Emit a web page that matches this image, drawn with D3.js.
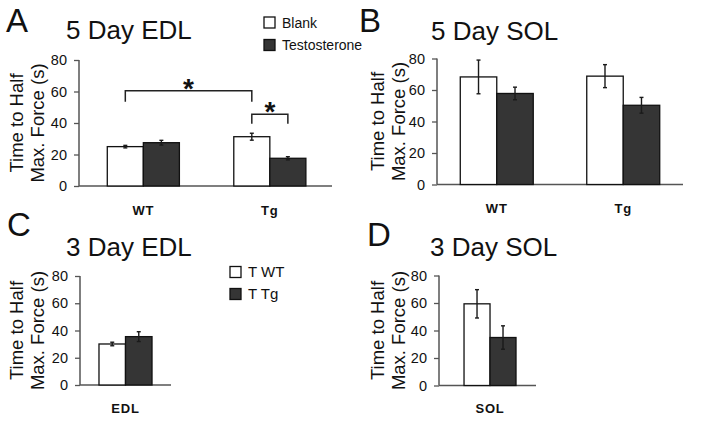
<!DOCTYPE html>
<html><head><meta charset="utf-8">
<script src="https://cdn.jsdelivr.net/npm/d3@7"></script>
<style>body{margin:0;background:#fff}svg{display:block}text{font-family:Arial,"Liberation Sans",sans-serif;fill:#111}</style>
</head><body><svg id="c" width="704" height="421"></svg>
<script>
const yTicks = [0, 20, 40, 60, 80];
const seriesA = ["Blank", "Testosterone"];
const seriesC = ["T WT", "T Tg"];
const catsTop = ["WT", "Tg"];
// Panel A: 5 Day EDL
const aBlank = [25.0, 31.3], aBlankErr = [0.8, 2.2];
const aTest = [27.5, 17.6], aTestErr = [1.5, 1.0];
// Panel B: 5 Day SOL
const bBlank = [68.3, 68.8], bBlankErr = [10.7, 7.3];
const bTest = [57.8, 50.3], bTestErr = [4.0, 5.0];
// Panel C: 3 Day EDL
const cCats = ["EDL"];
const cWT = [30.1], cWTErr = [1.3];
const cTg = [35.5], cTgErr = [3.6];
// Panel D: 3 Day SOL
const dCats = ["SOL"];
const dWT = [59.4], dWTErr = [10.3];
const dTg = [34.9], dTgErr = [8.5];
// Significance brackets (panel A): [cat1, series1, cat2, series2, top value, end value]
const sigA = [[0, 0, 1, 0, 60.5, 53.5], [1, 0, 1, 1, 45.5, 39.5]];

const svg = d3.select("#c");
const DARK = "#353535";

function panel(o) {
  const g = svg.append("g");
  const y = d3.scaleLinear().domain([0, 80]).range([o.y0, o.y1]);
  const x0 = d3.scaleBand().domain(o.cats).range([o.x0, o.x1]).paddingInner(o.pi).paddingOuter(o.po).align(o.al);
  const x1 = d3.scaleBand().domain([0, 1]).range([0, x0.bandwidth()]);
  const ax = g.append("g").attr("transform", `translate(${o.x0},0)`)
    .call(d3.axisLeft(y).tickValues(yTicks).tickSize(5).tickPadding(7).tickFormat(d3.format("d")));
  ax.select(".domain").remove();
  ax.selectAll(".tick line").attr("stroke", "#555").attr("stroke-width", 1.3);
  ax.selectAll(".tick text").attr("font-size", 14.5).attr("font-family", "Arial,'Liberation Sans',sans-serif").attr("fill", "#222");
  g.append("line").attr("x1", o.x0).attr("x2", o.x0).attr("y1", y(0)).attr("y2", y(80)).attr("stroke", "#555").attr("stroke-width", 1.5);
  g.append("line").attr("x1", o.x0).attr("x2", o.x1).attr("y1", y(0)).attr("y2", y(0)).attr("stroke", "#555").attr("stroke-width", 1.5);
  const series = [[o.v0, o.e0, "#fff"], [o.v1, o.e1, DARK]];
  series.forEach(([vals, errs, fill], si) => {
    o.cats.forEach((c, ci) => {
      const bx = x0(c) + x1(si), bw = x1.bandwidth();
      g.append("rect").attr("x", bx).attr("y", y(vals[ci])).attr("width", bw).attr("height", y(0) - y(vals[ci]))
        .attr("fill", fill).attr("stroke", "#111").attr("stroke-width", 1.3);
      const cx = bx + bw / 2;
      const eg = g.append("g").attr("stroke", "#1a1a1a").attr("stroke-width", 1.4);
      eg.append("line").attr("x1", cx).attr("x2", cx).attr("y1", y(vals[ci] - errs[ci])).attr("y2", y(vals[ci] + errs[ci]));
      [vals[ci] - errs[ci], vals[ci] + errs[ci]].forEach(v =>
        eg.append("line").attr("x1", cx - 2).attr("x2", cx + 2).attr("y1", y(v)).attr("y2", y(v)));
    });
  });
  o.cats.forEach(c => {
    g.append("text").attr("x", x0(c) + x0.bandwidth() / 2).attr("y", o.catY).attr("text-anchor", "middle")
      .attr("font-size", 13).attr("font-weight", "bold").attr("fill", "#222").attr("letter-spacing", 0.8).text(c);
  });
  const cy = (y(0) + y(80)) / 2;
  g.append("text").attr("transform", `translate(${o.lx1},${cy}) rotate(-90)`).attr("text-anchor", "middle")
    .attr("font-size", 18.5).attr("fill", "#222").text("Time to Half");
  g.append("text").attr("transform", `translate(${o.lx2},${cy}) rotate(-90)`).attr("text-anchor", "middle")
    .attr("font-size", 18.5).attr("fill", "#222").text("Max. Force (s)");
  g.append("text").attr("x", o.lt[0]).attr("y", o.lt[1]).attr("font-size", 33).text(o.letter);
  g.append("text").attr("x", o.tt[0]).attr("y", o.tt[1]).attr("font-size", 26).text(o.title);
  return {g, x0, x1, y};
}

const A = panel({cats: catsTop, v0: aBlank, e0: aBlankErr, v1: aTest, e1: aTestErr,
  x0: 79, x1: 332, y0: 186, y1: 60, pi: 0.43, po: 0.215, al: 0.52, catY: 215,
  lx1: 23, lx2: 44, lt: [6, 32], tt: [66, 39], letter: "A", title: "5 Day EDL"});
panel({cats: catsTop, v0: bBlank, e0: bBlankErr, v1: bTest, e1: bTestErr,
  x0: 437, x1: 683, y0: 184.5, y1: 58.5, pi: 0.423, po: 0.184, al: 0.5, catY: 213,
  lx1: 384, lx2: 405, lt: [359, 32], tt: [431, 40], letter: "B", title: "5 Day SOL"});
panel({cats: cCats, v0: cWT, e0: cWTErr, v1: cTg, e1: cTgErr,
  x0: 80, x1: 171, y0: 385, y1: 276, pi: 0, po: 0.358, al: 0.5, catY: 413,
  lx1: 23, lx2: 44, lt: [7, 236], tt: [66, 256], letter: "C", title: "3 Day EDL"});
panel({cats: dCats, v0: dWT, e0: dWTErr, v1: dTg, e1: dTgErr,
  x0: 439, x1: 536, y0: 385.5, y1: 275.5, pi: 0, po: 0.433, al: 0.556, catY: 413,
  lx1: 384, lx2: 405, lt: [367, 246], tt: [430, 256], letter: "D", title: "3 Day SOL"});

sigA.forEach(([c1, s1, c2, s2, top, end]) => {
  const xa = A.x0(catsTop[c1]) + A.x1(s1) + A.x1.bandwidth() / 2;
  const xb = A.x0(catsTop[c2]) + A.x1(s2) + A.x1.bandwidth() / 2;
  A.g.append("path").attr("d", `M${xa},${A.y(end)}V${A.y(top)}H${xb}V${A.y(end)}`)
    .attr("fill", "none").attr("stroke", "#222").attr("stroke-width", 1.5);
  A.g.append("text").attr("x", (xa + xb) / 2).attr("y", A.y(top) + 7).attr("text-anchor", "middle")
    .attr("font-size", 28).attr("font-weight", "bold").text("*");
});

function legend(items, x, ys, fs) {
  items.forEach((t, i) => {
    svg.append("rect").attr("x", x).attr("y", ys[i] - 10.5).attr("width", 11).attr("height", 11)
      .attr("fill", i ? DARK : "#fff").attr("stroke", "#111").attr("stroke-width", 1.3);
    svg.append("text").attr("x", x + 18).attr("y", ys[i]).attr("font-size", fs).attr("fill", "#222").text(t);
  });
}
legend(seriesA, 264, [27.5, 50], 14);
legend(seriesC, 230, [277, 299], 15);
</script></body></html>
